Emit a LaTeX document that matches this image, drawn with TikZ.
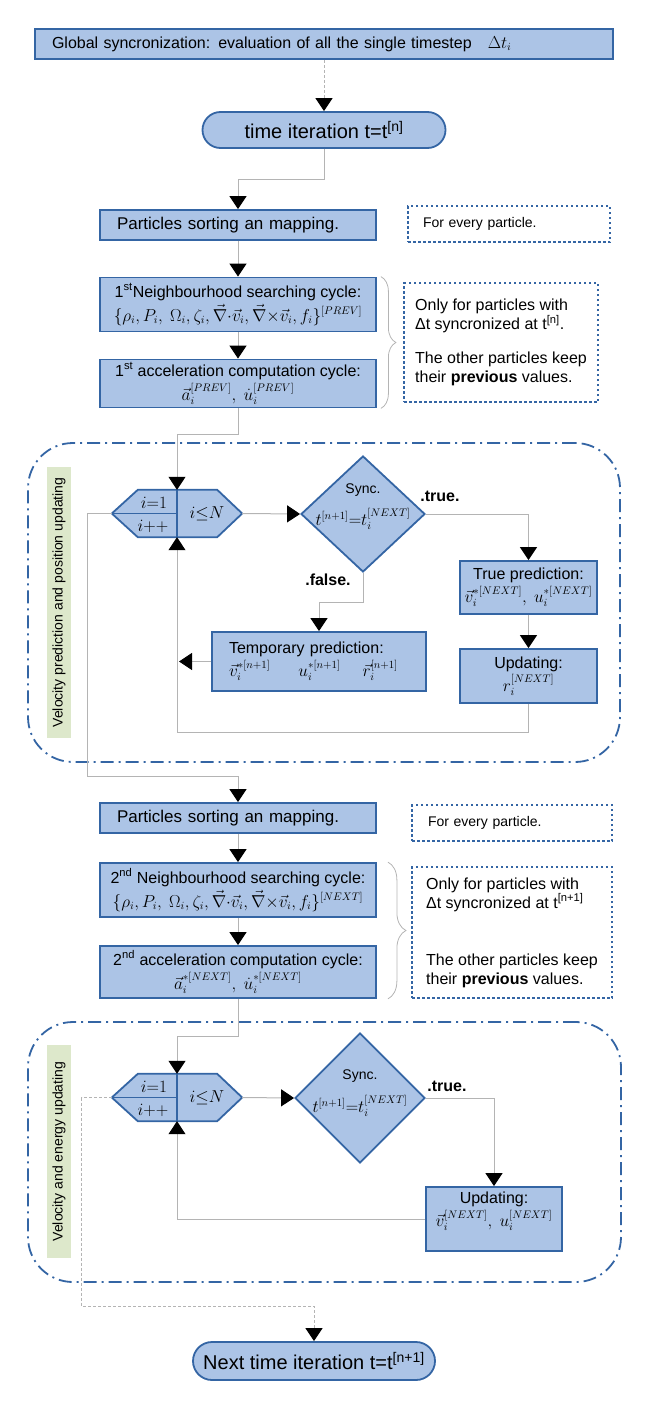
\documentclass[tikz,border=0pt]{standalone}
\usepackage{fontspec}
\setmainfont{Liberation Sans}
\usepackage{amsmath}
\usetikzlibrary{shapes.geometric, arrows.meta, positioning, calc, decorations.pathreplacing}

\definecolor{boxblue}{RGB}{172,196,230}
\definecolor{edgeblue}{HTML}{3465A4}
\definecolor{labelgreen}{HTML}{DDE8CB}
\definecolor{linegray}{RGB}{180,180,180}

\begin{document}
\begin{tikzpicture}[
  x=1pt, y=-1pt,
  process/.style={rectangle, draw=edgeblue, fill=boxblue, line width=1.8pt, inner sep=0pt, font=\fontsize{16}{19}\selectfont, align=center},
  terminal/.style={process, font=\fontsize{20}{24}\selectfont},
  note/.style={rectangle, draw=edgeblue, line width=1.8pt, dash pattern=on 2.5pt off 2.5pt, inner sep=0pt, font=\fontsize{16}{19}\selectfont, align=left},
  decision/.style={diamond, draw=edgeblue, fill=boxblue, line width=1.8pt, inner sep=0pt},
  sidelabel/.style={rectangle, fill=labelgreen, rotate=90, inner sep=0pt, font=\fontsize{14}{16}\selectfont},
  loopframe/.style={rectangle, draw=edgeblue, line width=1.8pt, rounded corners=45pt, dash pattern=on 13pt off 5pt on 2pt off 5pt},
  hexline/.style={draw=edgeblue, line width=1.8pt},
  mathtext/.style={font=\fontsize{16}{19}\selectfont},
  branch/.style={font=\bfseries\fontsize{16}{19}\selectfont},
  conn/.style={draw=linegray, line width=1pt},
  arrow/.style={conn, -{Triangle[length=13pt, width=17pt, color=black]}},
  dashedarrow/.style={arrow, dash pattern=on 3pt off 2pt},
  bracket/.style={draw=linegray, line width=0.8pt, decorate, decoration={brace, amplitude=#1}}
]
\useasboundingbox (0,0) rectangle (650,1418);

% Frames of the two particle loops
\node[loopframe, minimum width=592pt, minimum height=319pt] (loop1) at (324,602.5) {};
\node[loopframe, minimum width=593pt, minimum height=260pt] (loop2) at (324.5,1152) {};
\node[sidelabel, minimum width=271pt, minimum height=24pt] (side1) at (59,602.5) {Velocity prediction and position updating};
\node[sidelabel, minimum width=213pt, minimum height=24pt] (side2) at (59,1151.5) {Velocity and energy updating};

% Top of the time step
\node[process, minimum width=578pt, minimum height=30pt, text width=544pt, align=left] (global) at (324,44) {Global syncronization: evaluation of all the single timestep\quad$\Delta t_i$};
\node[terminal, minimum width=243pt, minimum height=36pt, rounded corners=18pt] (time) at (324,130) {time iteration t=t\textsuperscript{[n]}};

\node[process, font=\fontsize{17}{20}\selectfont, minimum width=276pt, minimum height=30pt, text width=242pt, align=left] (sort1) at (238,225) {Particles sorting an mapping.};
\node[note, minimum width=202pt, minimum height=36pt, text width=172pt, font=\fontsize{14}{17}\selectfont] (every1) at (509,224) {For every particle.};
\node[process, minimum width=276pt, minimum height=54pt] (search1) at (238,304.5) {1\textsuperscript{st}Neighbourhood searching cycle:\\[3pt] $\{\rho_i,P_i,\ \Omega_i,\zeta_i,\vec\nabla{\cdot}\vec v_i,\vec\nabla{\times}\vec v_i,f_i\}^{[PREV]}$};
\node[process, minimum width=276pt, minimum height=48pt] (accel1) at (238,383.5) {1\textsuperscript{st} acceleration computation cycle:\\[3pt] $\vec a_i^{[PREV]},\ \dot u_i^{[PREV]}$};
\node[note, minimum width=194pt, minimum height=119pt] (only1) at (501,342.5) {Only for particles with\\ Δt syncronized at t\textsuperscript{[n]}.\\[15pt] The other particles keep\\ their \textbf{previous} values.};
\draw[bracket=15pt] ([xshift=4pt]search1.north east) -- ([xshift=4pt]accel1.south east);

% First loop
\node[minimum width=130pt, minimum height=47pt, inner sep=0pt] (hex1) at (177,513.5) {};
\node[decision, minimum width=124pt, minimum height=116pt] (sync1) at (363,514) {};
\node[process, minimum width=137pt, minimum height=53pt] (truepred) at (528.5,587.5) {True prediction:\\[2pt] $\vec v_i^{*[NEXT]},\ u_i^{*[NEXT]}$};
\node[process, minimum width=137pt, minimum height=54pt] (update1) at (528.5,676) {Updating:\\[2pt] $r_i^{[NEXT]}$};
\node[process, minimum width=214pt, minimum height=59pt, text width=180pt, align=left] (temppred) at (319,661.5) {Temporary prediction:\\[2pt] $\vec v_i^{*[n+1]}$\hspace{28pt}$u_i^{*[n+1]}$\hspace{22pt}$\vec r_i^{[n+1]}$};

% Second part of the time step
\node[process, font=\fontsize{17}{20}\selectfont, minimum width=276pt, minimum height=30pt, text width=242pt, align=left] (sort2) at (238,818) {Particles sorting an mapping.};
\node[note, minimum width=200pt, minimum height=36pt, text width=168pt, font=\fontsize{14}{17}\selectfont] (every2) at (512,823) {For every particle.};
\node[process, minimum width=276pt, minimum height=54pt] (search2) at (238,890) {2\textsuperscript{nd} Neighbourhood searching cycle:\\[3pt] $\{\rho_i,P_i,\ \Omega_i,\zeta_i,\vec\nabla{\cdot}\vec v_i,\vec\nabla{\times}\vec v_i,f_i\}^{[NEXT]}$};
\node[process, minimum width=276pt, minimum height=52pt] (accel2) at (238,972) {2\textsuperscript{nd} acceleration computation cycle:\\[3pt] $\vec a_i^{*[NEXT]},\ \dot u_i^{*[NEXT]}$};
\node[note, minimum width=200pt, minimum height=131pt] (only2) at (512,932.5) {Only for particles with\\ Δt syncronized at t\textsuperscript{[n+1]}\\[38pt] The other particles keep\\ their \textbf{previous} values.};
\draw[bracket=18pt] ([xshift=11pt]search2.north east) -- ([xshift=11pt]accel2.south east);

% Second loop
\node[minimum width=130pt, minimum height=47pt, inner sep=0pt] (hex2) at (177,1097.5) {};
\node[decision, minimum width=130pt, minimum height=130pt] (sync2) at (360,1098) {};
\node[process, minimum width=136pt, minimum height=64pt] (update2) at (494,1219) {Updating:\\[2pt] $\vec v_i^{[NEXT]},\ u_i^{[NEXT]}$\\ \mbox{}};

\node[terminal, minimum width=242pt, minimum height=38pt, rounded corners=19pt] (next) at (314,1361) {Next time iteration t=t\textsuperscript{[n+1]}};

% Loop heads
\foreach \h in {hex1, hex2} {
  \draw[hexline, fill=boxblue] (\h.west) -- ([xshift=26pt]\h.north west) -- ([xshift=-25pt]\h.north east) -- (\h.east) -- ([xshift=-25pt]\h.south east) -- ([xshift=26pt]\h.south west) -- cycle;
  \draw[hexline] (\h.north) -- (\h.south) (\h.west) -- (\h.center);
}
\node[mathtext] (init1) at (154,503) {$i{=}1$};
\node[mathtext] (incr1) at (153,526) {$i{+}{+}$};
\node[mathtext] (test1) at (207,514) {$i{\leq}N$};
\node[mathtext] (init2) at (154,1087) {$i{=}1$};
\node[mathtext] (incr2) at (153,1110) {$i{+}{+}$};
\node[mathtext] (test2) at (207,1098) {$i{\leq}N$};

% Labels of the decisions
\node[font=\fontsize{14}{17}\selectfont] (synclab1) at (363,490) {Sync.};
\node[mathtext] (synceq1) at (363,519) {$t^{[n+1]}{=}t_i^{[NEXT]}$};
\node[font=\fontsize{14}{17}\selectfont] (synclab2) at (360,1076) {Sync.};
\node[mathtext] (synceq2) at (360,1106) {$t^{[n+1]}{=}t_i^{[NEXT]}$};
\node[branch] (yes1) at (440,496) {.true.};
\node[branch] (no1) at (328,580) {.false.};
\node[branch] (yes2) at (447,1086) {.true.};

% Connectors
\draw[dashedarrow] (global.south) -- (time.north);
\draw[arrow] (time.south) -- ++(0,31) -| (sort1.north);
\draw[arrow] (sort1.south) -- (search1.north);
\draw[arrow] (search1.south) -- (accel1.north);
\draw[arrow] (accel1.south) -- ++(0,26) -| (hex1.north);
\draw[arrow] (hex1.east) -- (sync1.west);
\draw[arrow] (sync1.east) -| (truepred.north);
\draw[arrow] (truepred.south) -- (update1.north);
\draw[arrow] (update1.south) -- ++(0,29) -| (hex1.south);
\draw[arrow] (sync1.south) -- ++(0,30) -| (temppred.north);
\draw[arrow] (temppred.west) -- ([xshift=2pt]temppred.west -| hex1.south);
\draw[arrow] (hex1.west) -- ++(-24,0) |- ($(sort2.north)+(0,-26)$) -- (sort2.north);
\draw[arrow] (sort2.south) -- (search2.north);
\draw[arrow] (search2.south) -- (accel2.north);
\draw[arrow] (accel2.south) -- ++(0,38) -| (hex2.north);
\draw[arrow] (hex2.east) -- (sync2.west);
\draw[arrow] (sync2.east) -| (update2.north);
\draw[arrow] (update2.west) -| (hex2.south);
\draw[dashedarrow] (hex2.west) -- ++(-30,0) |- ($(next.north)+(0,-35)$) -- (next.north);

\end{tikzpicture}
\end{document}
